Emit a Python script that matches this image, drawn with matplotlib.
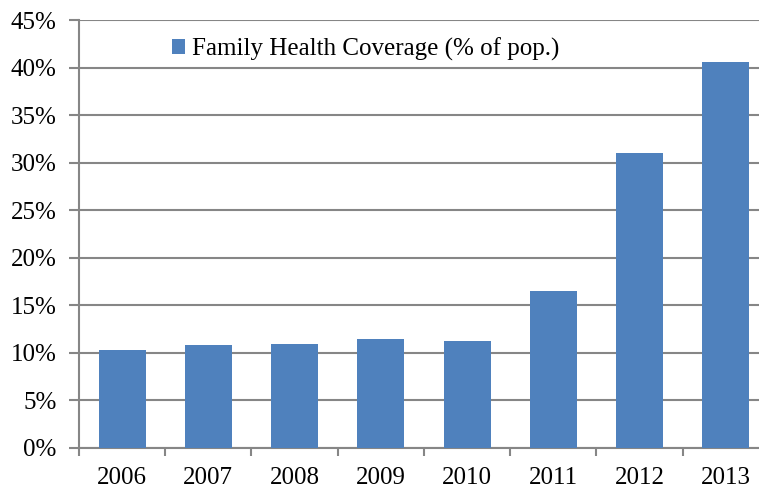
import numpy as np
import matplotlib
matplotlib.use("Agg")
from matplotlib import pyplot as plt
from matplotlib.ticker import FuncFormatter, FixedLocator

years = ["2006", "2007", "2008", "2009", "2010", "2011", "2012", "2013"]
coverage = [10.35, 10.88, 10.93, 11.5, 11.3, 16.5, 31.0, 40.6]
series_label = "Family Health Coverage (% of pop.)"

plt.rcParams["font.family"] = ["Liberation Serif", "DejaVu Serif"]

bar_color = "#4F81BD"
axis_gray = "#868686"

fig = plt.figure(figsize=(7.59, 4.88), dpi=100)
# plot area runs slightly past the right edge of the picture, as in the source
ax = fig.add_axes([0.104, 0.082, 0.909, 0.877])

x = np.arange(len(years))
ax.bar(x, coverage, width=0.545, color=bar_color, label=series_label, zorder=3)

ax.set_xlim(-0.5, len(years) - 0.5)
ax.set_ylim(0, 45)
ax.set_yticks(np.arange(0, 46, 5))
ax.yaxis.set_major_formatter(FuncFormatter(lambda v, p: f"{v:.0f}%"))
ax.set_xticks(x)
ax.set_xticklabels(years)
ax.xaxis.set_minor_locator(FixedLocator(np.arange(-0.5, len(years), 1.0)))

ax.grid(axis="y", color=axis_gray, linewidth=1.5, zorder=0)
for side in ["top", "right"]:
    ax.spines[side].set_visible(False)
for side in ["left", "bottom"]:
    ax.spines[side].set_color(axis_gray)
    ax.spines[side].set_linewidth(1.5)

ax.tick_params(axis="y", length=7, width=1.5, color=axis_gray, labelsize=18, pad=9)
ax.tick_params(axis="x", which="major", length=0, labelsize=18, pad=14)
ax.tick_params(axis="x", which="minor", length=6, width=1.5, color=axis_gray)

ax.legend(loc="upper left", bbox_to_anchor=(0.109, 1.0), frameon=False,
          fontsize=18, handlelength=0.52, handleheight=0.52, handletextpad=0.3,
          borderaxespad=0.3)

fig.savefig("out.png", dpi=100)
